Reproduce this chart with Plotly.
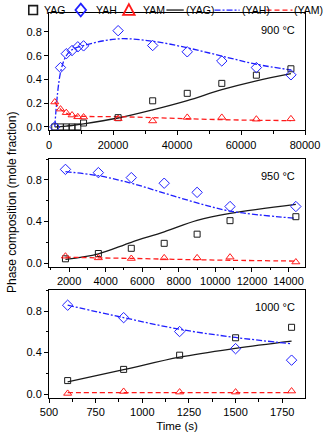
import plotly.graph_objects as go

# ---- 900 °C ----
t900 = [1800, 3600, 5400, 7200, 9000, 10800, 21600, 32400, 43200, 54000, 64800, 75600]
yag900 = [0.0, 0.0, 0.0, 0.0, 0.0, 0.033, 0.078, 0.22, 0.283, 0.367, 0.436, 0.49]
yah900 = [0.0, 0.50, 0.617, 0.644, 0.675, 0.683, 0.811, 0.686, 0.633, 0.556, 0.50, 0.439]
yam900 = [0.21, 0.15, 0.12, 0.10, 0.085, 0.083, 0.07, 0.05, 0.08, 0.08, 0.065, 0.068]
fit_t900 = [1800, 3600, 5400, 7200, 10800, 21600, 32400, 43200, 54000, 64800, 75600]
fit_yag900 = [0.0, 0.003, 0.007, 0.012, 0.025, 0.075, 0.144, 0.222, 0.314, 0.389, 0.45]
fit_yah900 = [0.0, 0.46, 0.60, 0.65, 0.686, 0.742, 0.722, 0.667, 0.597, 0.528, 0.48]
fit_yam900 = [0.21, 0.15, 0.117, 0.097, 0.089, 0.086, 0.078, 0.069, 0.061, 0.056, 0.053]

# ---- 950 °C ----
t950 = [1800, 3600, 5400, 7200, 9000, 10800, 14400]
yag950 = [0.041, 0.092, 0.142, 0.19, 0.278, 0.408, 0.446]
yah950 = [0.901, 0.87, 0.822, 0.768, 0.68, 0.544, 0.544]
yam950 = [0.066, 0.05, 0.044, 0.05, 0.05, 0.057, 0.01]
fit_yag950 = [0.035, 0.089, 0.20, 0.30, 0.41, 0.478, 0.565]
fit_yah950 = [0.879, 0.84, 0.768, 0.673, 0.579, 0.50, 0.43]
fit_yam950 = [0.057, 0.05, 0.045, 0.038, 0.032, 0.027, 0.019]

# ---- 1000 °C ----
t1000 = [600, 900, 1200, 1500, 1800]
yag1000 = [0.13, 0.238, 0.375, 0.543, 0.644]
yah1000 = [0.857, 0.737, 0.603, 0.438, 0.327]
yam1000 = [0.006, 0.025, 0.019, 0.019, 0.029]
fit_yag1000 = [0.117, 0.235, 0.356, 0.441, 0.511]
fit_yah1000 = [0.857, 0.737, 0.625, 0.546, 0.485]
fit_yam1000 = [0.013, 0.013, 0.013, 0.013, 0.013]

temps = ["900 °C", "950 °C", "1000 °C"]
legend_names = ["YAG", "YAH", "YAM", "(YAG)", "(YAH)", "(YAM)"]

BLACK = "#1a1a1a"
BLUE = "#1f1fff"
RED = "#ff1a1a"
FONT = "Liberation Sans, Arial, sans-serif"

W, H = 332, 442
ML, MR, MT, MB = 49, 17, 13, 39
PW, PH = W - ML - MR, H - MT - MB


def px_x(x):
    return (x - ML) / PW


def px_y(y):
    return (H - MB - y) / PH


fig = go.Figure()

panels = [
    (t900, yag900, yah900, yam900, fit_t900, fit_yag900, fit_yah900, fit_yam900),
    (t950, yag950, yah950, yam950, t950, fit_yag950, fit_yah950, fit_yam950),
    (t1000, yag1000, yah1000, yam1000, t1000, fit_yag1000, fit_yah1000, fit_yam1000),
]

for i, (t, yag, yah, yam, ft, fyag, fyah, fyam) in enumerate(panels):
    ax = "" if i == 0 else str(i + 1)
    xa, ya = "x" + ax, "y" + ax
    common = dict(xaxis=xa, yaxis=ya, showlegend=False)
    fig.add_trace(go.Scatter(x=ft, y=fyag, mode="lines", line=dict(color=BLACK, width=1.3, shape="spline"), **common))
    fig.add_trace(go.Scatter(x=ft, y=fyah, mode="lines", line=dict(color=BLUE, width=1.3, dash="6px,2px,2px,2px", shape="spline"), **common))
    fig.add_trace(go.Scatter(x=ft, y=fyam, mode="lines", line=dict(color=RED, width=1.3, dash="5px,3px", shape="spline"), **common))
    fig.add_trace(go.Scatter(x=t, y=yag, mode="markers", marker=dict(symbol="square-open", size=6, color=BLACK, line=dict(width=1)), **common))
    fig.add_trace(go.Scatter(x=t, y=yah, mode="markers", marker=dict(symbol="diamond-open", size=8, color=BLUE, line=dict(width=1)), **common))
    fig.add_trace(go.Scatter(x=t, y=yam, mode="markers", marker=dict(symbol="triangle-up-open", size=7, color=RED, line=dict(width=1)), **common))

# panel boxes (pixel rows)
rows = [(13, 132), (161, 270), (294, 403)]
xranges = [[0, 80000], [900, 14900], [500, 1872]]
xdtick = [20000, 2000, 250]
yranges = [[-0.03, 0.96], [-0.035, 1.0], [-0.038, 1.0]]
ydtick = [0.2, 0.4, 0.4]

axis_style = dict(
    showline=True, linecolor="#000", linewidth=1, mirror=True,
    ticks="outside", ticklen=4, tickwidth=1, tickcolor="#000",
    showgrid=False, zeroline=False,
    tickfont=dict(family=FONT, size=11, color="#000"),
)

for i in range(3):
    ax = "" if i == 0 else str(i + 1)
    top, bot = rows[i]
    fig.layout["xaxis" + ax] = dict(
        domain=[0, 1], anchor="y" + ax, range=xranges[i], dtick=xdtick[i],
        tickformat="d",
        minor=dict(dtick=xdtick[i] / 2, ticks="outside", ticklen=2.5, tickcolor="#000"),
        **axis_style,
    )
    fig.layout["yaxis" + ax] = dict(
        domain=[px_y(bot), px_y(top)], anchor="x" + ax, range=yranges[i], dtick=ydtick[i],
        tickformat=".1f",
        minor=dict(dtick=ydtick[i] / 2, ticks="outside", ticklen=2.5, tickcolor="#000") if i > 0 else None,
        **axis_style,
    )
    fig.add_annotation(
        xref="x" + ax + " domain", yref="y" + ax + " domain", x=0.97, y=0.92,
        xanchor="right", yanchor="top", text=temps[i], showarrow=False,
        font=dict(family=FONT, size=11, color="#000"),
    )

fig.layout.xaxis3.title = dict(text="Time (s)", font=dict(family=FONT, size=11.5, color="#000"), standoff=4)

# shared y-axis title
fig.add_annotation(
    xref="paper", yref="paper", x=px_x(10), y=px_y(205), text="Phase composition (mole fraction)",
    textangle=-90, showarrow=False, font=dict(family=FONT, size=12, color="#000"),
    xanchor="center", yanchor="middle",
)

# legend row across the top
LY = 10
shapes = []
shapes.append(dict(type="rect", xref="paper", yref="paper",
                   x0=px_x(28), x1=px_x(37), y0=px_y(LY + 4.5), y1=px_y(LY - 4.5),
                   line=dict(color=BLACK, width=1.6)))
cx = 82
shapes.append(dict(type="path", xref="paper", yref="paper",
                   path=f"M {px_x(cx)} {px_y(LY - 6.5)} L {px_x(cx + 5.5)} {px_y(LY)} L {px_x(cx)} {px_y(LY + 6.5)} L {px_x(cx - 5.5)} {px_y(LY)} Z",
                   line=dict(color=BLUE, width=1.8)))
cx = 132
shapes.append(dict(type="path", xref="paper", yref="paper",
                   path=f"M {px_x(cx)} {px_y(LY - 6)} L {px_x(cx + 6)} {px_y(LY + 5)} L {px_x(cx - 6)} {px_y(LY + 5)} Z",
                   line=dict(color=RED, width=1.8)))
shapes.append(dict(type="line", xref="paper", yref="paper", x0=px_x(171), x1=px_x(189), y0=px_y(LY), y1=px_y(LY),
                   line=dict(color=BLACK, width=1.3)))
shapes.append(dict(type="line", xref="paper", yref="paper", x0=px_x(221), x1=px_x(247), y0=px_y(LY), y1=px_y(LY),
                   line=dict(color=BLUE, width=1.3, dash="6px,2px,2px,2px")))
shapes.append(dict(type="line", xref="paper", yref="paper", x0=px_x(275), x1=px_x(302), y0=px_y(LY), y1=px_y(LY),
                   line=dict(color=RED, width=1.3, dash="5px,3px")))
fig.update_layout(shapes=shapes)

for name, xpos in zip(legend_names, [42, 96, 145, 189, 247, 302]):
    fig.add_annotation(xref="paper", yref="paper", x=px_x(xpos), y=px_y(LY), text=name,
                       xanchor="left", yanchor="middle", showarrow=False,
                       font=dict(family=FONT, size=10.5, color="#000"))

fig.update_layout(
    width=W, height=H,
    margin=dict(l=ML, r=MR, t=MT, b=MB),
    paper_bgcolor="white", plot_bgcolor="white",
    showlegend=False,
)

fig.write_html("out.html", config={"displayModeBar": False})
